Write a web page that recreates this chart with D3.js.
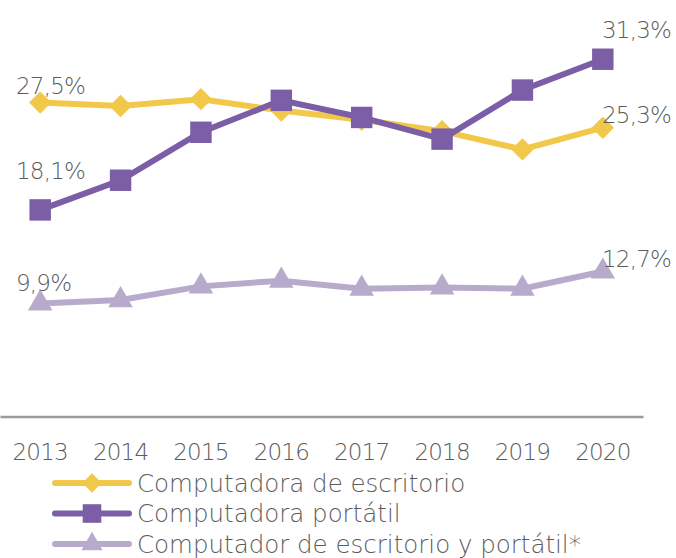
<!DOCTYPE html>
<html>
<head>
<meta charset="utf-8">
<script src="https://cdn.jsdelivr.net/npm/d3@7"></script>
<style>
  body { margin: 0; background: #fff; }
  text { font-family: "DejaVu Sans", sans-serif; font-weight: 200; fill: #5c5c5c; }
</style>
</head>
<body>
<script>
const years = ['2013', '2014', '2015', '2016', '2017', '2018', '2019', '2020'];
const escritorio = [27.5, 27.2, 27.8, 26.8, 26.0, 25.0, 23.4, 25.3];
const portatil = [18.1, 20.7, 24.9, 27.7, 26.2, 24.3, 28.6, 31.3];
const ambos = [9.9, 10.2, 11.4, 11.9, 11.2, 11.3, 11.2, 12.7];
const seriesNames = ['Computadora de escritorio', 'Computadora portátil', 'Computador de escritorio y portátil*'];

const width = 676;
const height = 558;

const svg = d3.select('body')
  .append('svg')
  .attr('width', width)
  .attr('height', height);

const xScale = d3.scaleBand()
  .domain(years)
  .range([0, 643]);

const yScale = d3.scaleLinear()
  .domain([0, 35])
  .range([416.5, 17]);

// diamond = rotated square
const series = [
  {name: seriesNames[0], values: escritorio, color: '#f2c84b', symbol: d3.symbolSquare, size: 250, rotate: 45},
  {name: seriesNames[1], values: portatil, color: '#7b5ea6', symbol: d3.symbolSquare, size: 460, rotate: 0},
  {name: seriesNames[2], values: ambos, color: '#b8aacb', symbol: d3.symbolTriangle, size: 260, rotate: 0}
];

const xPos = y => xScale(y) + xScale.bandwidth() / 2;

// axis
const xAxis = d3.axisBottom(xScale).tickSize(0).tickPadding(27);
const xGroup = svg.append('g')
  .attr('transform', 'translate(0, 416.5)')
  .call(xAxis);
xGroup.select('.domain').attr('stroke', '#9a9a9a').attr('stroke-width', 2.5);
xGroup.selectAll('text')
  .attr('font-family', null)
  .style('font-size', '23px')
  .style('letter-spacing', '-0.8px')
  .attr('fill', '#5c5c5c');

const line = d3.line()
  .x((d, i) => xPos(years[i]))
  .y(d => yScale(d));

series.forEach(s => {
  svg.append('path')
    .datum(s.values)
    .attr('d', line)
    .attr('fill', 'none')
    .attr('stroke', s.color)
    .attr('stroke-width', 6);

  svg.selectAll(null)
    .data(s.values)
    .enter()
    .append('path')
    .attr('d', d3.symbol().type(s.symbol).size(s.size))
    .attr('transform', (d, i) => `translate(${xPos(years[i])}, ${yScale(d)}) rotate(${s.rotate})`)
    .attr('fill', s.color);
});

// value labels for first and last points
const fmt = v => d3.format('.1f')(v).replace('.', ',') + '%';
const labelDy = [[-9, -5], [-31, -21], [-12, -5]];
series.forEach((s, k) => {
  svg.append('text')
    .attr('x', 16)
    .attr('y', yScale(s.values[0]) + labelDy[k][0])
    .style('font-size', '23px')
    .style('letter-spacing', '-0.8px')
    .text(fmt(s.values[0]));
  svg.append('text')
    .attr('x', 602)
    .attr('y', yScale(s.values[7]) + labelDy[k][1])
    .style('font-size', '23px')
    .style('letter-spacing', '-0.8px')
    .text(fmt(s.values[7]));
});

// legend
const legend = svg.append('g');
series.forEach((s, k) => {
  const ly = 483 + k * 30.5;
  legend.append('line')
    .attr('x1', 55).attr('x2', 129)
    .attr('y1', ly).attr('y2', ly)
    .attr('stroke', s.color)
    .attr('stroke-width', 6)
    .attr('stroke-linecap', 'round');
  legend.append('path')
    .attr('d', d3.symbol().type(s.symbol).size(s.size * 0.75))
    .attr('transform', `translate(92, ${ly}) rotate(${s.rotate})`)
    .attr('fill', s.color);
  legend.append('text')
    .attr('x', 137)
    .attr('y', ly + 8.5)
    .style('font-size', '24.5px')
    .text(s.name);
});
</script>
</body>
</html>
